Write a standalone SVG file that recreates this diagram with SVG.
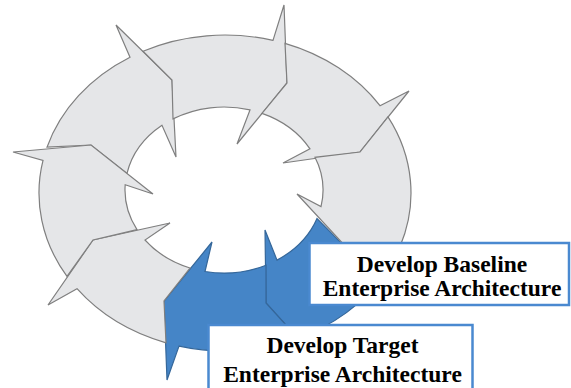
<svg xmlns="http://www.w3.org/2000/svg" width="571" height="388" viewBox="0 0 571 388">
<style>
.seg{fill:#e5e6e8;stroke:#7f7f7f;stroke-width:1.2;stroke-linejoin:miter}
.blue{fill:#4585c7;stroke:#35679a;stroke-width:1.2;stroke-linejoin:miter}
.box{fill:#ffffff;stroke:#4a89d0;stroke-width:2.5}
.lbl{font-family:"Liberation Serif","Times New Roman",serif;font-weight:bold;font-size:23.5px;fill:#000;text-anchor:middle}
</style>
<rect width="571" height="388" fill="#ffffff"/>
<g id="ring">
<g id="seg1"><path class="seg" d="M47,147.2 A186,158 0 0 1 130,57.2 L116,25 L172,80 L176,157 L162,125.3 A99,83 0 0 0 127,173.4 L91,145 Z"/></g>
<g id="seg2"><path class="seg" d="M143,51.2 A186,158 0 0 1 273,40.4 L284,5 L287,83 L237,144 L250,109.9 A99,83 0 0 0 173,118.9 L172,80 Z"/></g>
<g id="seg3"><path class="seg" d="M285,43.4 A186,158 0 0 1 380,105.7 L409,91 L360,152 L283,163 L310,148.9 A99,83 0 0 0 262,113.4 L287,83 Z"/></g>
<g id="seg5"><path class="blue" d="M392.3,262 A186,158 0 0 1 308,334.4 L320,363 L266,303 L265,230 L277,260.1 A99,83 0 0 0 317,218.5 L360,262 Z"/></g>
<g id="seg4"><path class="seg" d="M388,116.9 A186,158 0 0 1 400,246.5 L430,262 L360,262 L297,194 L321,206.6 A99,83 0 0 0 315,157.3 L360,152 Z"/></g>
<g id="seg6"><path class="blue" d="M298,338.3 A186,158 0 0 1 179,346.1 L167,380 L164,301 L212,242 L205,271.5 A99,83 0 0 0 266,265.2 L266,303 Z"/></g>
<g id="seg7"><path class="seg" d="M166,342.8 A186,158 0 0 1 77,288.7 L48,305 L93,240 L170,223 L145,240 A99,83 0 0 0 190,268 L164,301 Z"/></g>
<g id="seg8"><path class="seg" d="M67,276.4 A186,158 0 0 1 43,160.4 L13,152 L91,145 L153,194 L125.2,184.7 A99,83 0 0 0 137,229.6 L93,240 Z"/></g>
</g>
<g id="baseline">
<rect class="box" x="309.5" y="243" width="259.5" height="62"/>
<text class="lbl" x="442" y="272">Develop Baseline</text>
<text class="lbl" x="442" y="296">Enterprise Architecture</text>
</g>
<g id="target">
<rect class="box" x="208.5" y="325" width="264" height="70"/>
<text class="lbl" x="342.5" y="353">Develop Target</text>
<text class="lbl" x="342.5" y="382">Enterprise Architecture</text>
</g>
</svg>
